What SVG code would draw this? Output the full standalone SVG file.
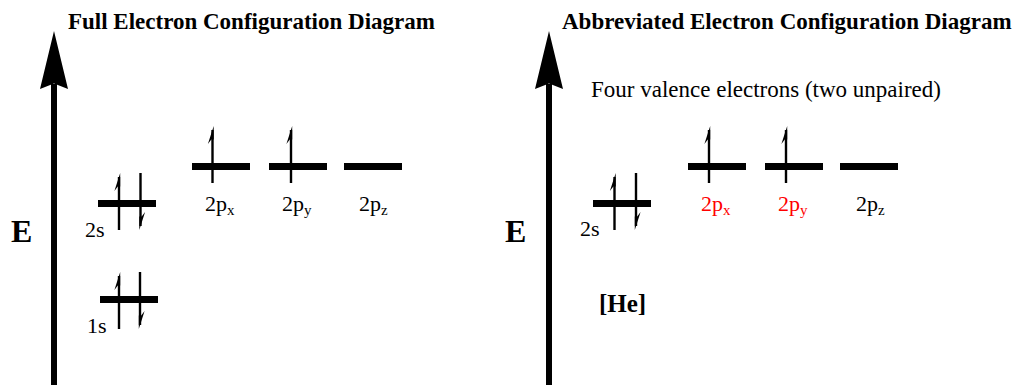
<svg xmlns="http://www.w3.org/2000/svg" width="1018" height="385" viewBox="0 0 1018 385">
<defs>
<style>
.t{font-family:"Liberation Serif","Times New Roman",serif;fill:#000}
.b{font-weight:bold}
.lab{font-size:22px}
.sub{font-size:15px}
.red{fill:#ff0000}
.bar{fill:#000}
.ln{stroke:#000;stroke-width:2.4;fill:none}
</style>
<g id="up-harpoon">
<line class="ln" x1="0" y1="4" x2="0" y2="57"/>
<polygon points="1.2,0 -4.6,18 -1.2,13.5 1.2,13.5" fill="#000"/>
</g>
<g id="down-harpoon">
<line class="ln" x1="0" y1="0" x2="0" y2="53"/>
<polygon points="-1.2,57 4.6,39 1.2,43.5 -1.2,43.5" fill="#000"/>
</g>
</defs>
<rect width="1018" height="385" fill="#fff"/>

<g id="left-panel">
<text class="t b" x="68" y="29" font-size="23">Full Electron Configuration Diagram</text>
<g id="axis-left">
<rect x="51" y="84" width="6" height="301" fill="#000"/>
<polygon points="54,31 68,89 54,83.5 40,89" fill="#000"/>
<text class="t b" x="11" y="242" font-size="32">E</text>
</g>
<g id="orb-1s">
<rect class="bar" x="100" y="296" width="58" height="7"/>
<use href="#up-harpoon" x="119" y="272"/>
<use href="#down-harpoon" x="140" y="272"/>
<text class="t lab" x="87" y="333">1s</text>
</g>
<g id="orb-2s">
<rect class="bar" x="98" y="200" width="58" height="7"/>
<use href="#up-harpoon" x="119" y="173"/>
<use href="#down-harpoon" x="140.5" y="173"/>
<text class="t lab" x="85" y="237">2s</text>
</g>
<g id="orb-2px">
<rect class="bar" x="192" y="163" width="58" height="7"/>
<use href="#up-harpoon" x="212.5" y="126"/>
<text class="t lab" x="205" y="211">2p<tspan class="sub" dy="4">x</tspan></text>
</g>
<g id="orb-2py">
<rect class="bar" x="269" y="163" width="58" height="7"/>
<use href="#up-harpoon" x="291" y="126"/>
<text class="t lab" x="282" y="211">2p<tspan class="sub" dy="4">y</tspan></text>
</g>
<g id="orb-2pz">
<rect class="bar" x="344" y="163" width="58" height="7"/>
<text class="t lab" x="359" y="211">2p<tspan class="sub" dy="4">z</tspan></text>
</g>
</g>

<g id="right-panel">
<text class="t b" x="562" y="29" font-size="23">Abbreviated Electron Configuration Diagram</text>
<g id="axis-right">
<rect x="546" y="84" width="6" height="301" fill="#000"/>
<polygon points="549,31 563,89 549,83.5 535,89" fill="#000"/>
<text class="t b" x="505" y="242" font-size="32">E</text>
</g>
<text class="t" x="591" y="97" font-size="23">Four valence electrons (two unpaired)</text>
<g id="core-he">
<text class="t b" x="599" y="312" font-size="25">[He]</text>
</g>
<g id="orb-2s-r">
<rect class="bar" x="593" y="200" width="58" height="7"/>
<use href="#up-harpoon" x="614.5" y="173"/>
<use href="#down-harpoon" x="636" y="173"/>
<text class="t lab" x="580" y="236">2s</text>
</g>
<g id="orb-2px-r">
<rect class="bar" x="688" y="163" width="58" height="7"/>
<use href="#up-harpoon" x="709" y="126"/>
<text class="t lab red" x="701" y="211">2p<tspan class="sub" dy="4">x</tspan></text>
</g>
<g id="orb-2py-r">
<rect class="bar" x="765" y="163" width="58" height="7"/>
<use href="#up-harpoon" x="786" y="126"/>
<text class="t lab red" x="778" y="211">2p<tspan class="sub" dy="4">y</tspan></text>
</g>
<g id="orb-2pz-r">
<rect class="bar" x="840" y="163" width="58" height="7"/>
<text class="t lab" x="856" y="211">2p<tspan class="sub" dy="4">z</tspan></text>
</g>
</g>

<g id="connectors"></g>
</svg>
